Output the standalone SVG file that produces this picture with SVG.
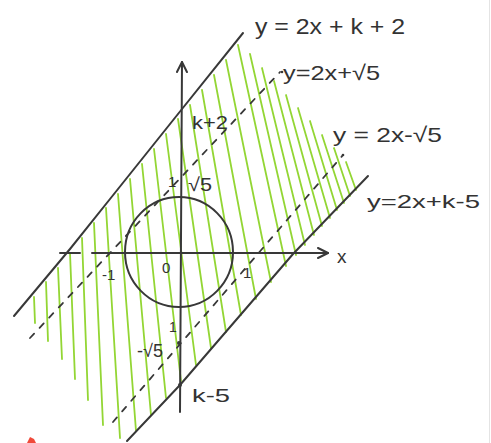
<svg xmlns="http://www.w3.org/2000/svg" width="491" height="443" viewBox="0 0 491 443">
<defs>
<style>
.bg{fill:#ffffff}
.hatch{stroke:#93d634;stroke-width:1.8;stroke-linecap:round;fill:none}
.ink{stroke:#383838;stroke-width:2;fill:none;stroke-linecap:round;stroke-linejoin:round}
.dash{stroke:#383838;stroke-width:1.8;fill:none;stroke-dasharray:6 8;stroke-linecap:round}
.lbl{font-family:"Liberation Sans","DejaVu Sans",sans-serif;fill:#333333}
.dot{fill:#383838}
</style>
<marker id="arrow" viewBox="0 0 12 12" refX="11" refY="6" markerWidth="12" markerHeight="12" markerUnits="userSpaceOnUse" orient="auto">
<path d="M1,1 L11,6 L1,11" fill="none" stroke="#383838" stroke-width="2" stroke-linecap="round" stroke-linejoin="round"/>
</marker>
</defs>
<rect class="bg" x="0" y="0" width="491" height="443"/>
<line x1="489.5" y1="0" x2="489.5" y2="443" stroke="#e4e4e4" stroke-width="1"/>

<g id="hatching" class="hatch">
<line x1="34" y1="297" x2="35" y2="323"/>
<line x1="46" y1="282" x2="48" y2="341"/>
<line x1="58" y1="268" x2="62" y2="359"/>
<line x1="70" y1="253" x2="75" y2="379"/>
<line x1="82" y1="238" x2="88" y2="400"/>
<line x1="94" y1="223" x2="103" y2="425"/>
<line x1="106" y1="208" x2="120" y2="438"/>
<line x1="118" y1="194" x2="136" y2="431"/>
<line x1="130" y1="179" x2="151" y2="415"/>
<line x1="142" y1="164" x2="166" y2="398"/>
<line x1="154" y1="149" x2="181" y2="381"/>
<line x1="166" y1="134" x2="196" y2="365"/>
<line x1="178" y1="119" x2="211" y2="348"/>
<line x1="190" y1="105" x2="226" y2="332"/>
<line x1="202" y1="90" x2="241" y2="315"/>
<line x1="214" y1="75" x2="256" y2="299"/>
<line x1="226" y1="60" x2="271" y2="282"/>
<line x1="238" y1="45" x2="286" y2="266"/>
<line x1="250" y1="54" x2="296" y2="255"/>
<line x1="262" y1="68" x2="305" y2="245"/>
<line x1="274" y1="81" x2="314" y2="235"/>
<line x1="286" y1="95" x2="322" y2="226"/>
<line x1="298" y1="108" x2="330" y2="218"/>
<line x1="310" y1="121" x2="337" y2="210"/>
<line x1="322" y1="135" x2="344" y2="203"/>
<line x1="334" y1="148" x2="350" y2="196"/>
<line x1="346" y1="162" x2="356" y2="190"/>
</g>

<g id="boundaries">
<polyline class="ink" points="14,316 70,249 110,199 182,109 243,33"/>
<polyline class="ink" points="127,441 180,385 293,254 368,176"/>
<line class="dash" x1="30" y1="338" x2="280" y2="72"/>
<line class="dash" x1="113" y1="422" x2="343" y2="155"/>
<circle class="dot" cx="282" cy="72" r="1.3"/>
<circle class="dot" cx="343" cy="155" r="1.3"/>
</g>

<g id="axes">
<line class="ink" x1="60" y1="253" x2="80" y2="253"/>
<line class="ink" x1="92" y1="253" x2="328" y2="253" marker-end="url(#arrow)"/>
<line class="ink" x1="180" y1="412" x2="182" y2="62" marker-end="url(#arrow)"/>
<circle class="dot" cx="180" cy="385" r="2"/>
<circle class="dot" cx="179" cy="343" r="2"/>
</g>

<g id="circle">
<ellipse class="ink" cx="179" cy="252" rx="54" ry="55"/>
</g>

<g id="labels" class="lbl">
<text x="255" y="34" font-size="22" textLength="150" lengthAdjust="spacingAndGlyphs">y = 2x + k + 2</text>
<text x="283" y="80" font-size="21" textLength="97" lengthAdjust="spacingAndGlyphs">y=2x+√5</text>
<text x="333" y="142" font-size="21" textLength="109" lengthAdjust="spacingAndGlyphs">y = 2x-√5</text>
<text x="367" y="208" font-size="19" textLength="113" lengthAdjust="spacingAndGlyphs">y=2x+k-5</text>
<text x="337" y="263" font-size="19">x</text>
<text x="162" y="273" font-size="15">0</text>
<text x="102" y="280" font-size="15">-1</text>
<text x="243" y="278" font-size="15">1</text>
<text x="169" y="332" font-size="14">1</text>
<text x="137" y="357" font-size="18" textLength="26" lengthAdjust="spacingAndGlyphs">-√5</text>
<text x="192" y="402" font-size="19" textLength="38" lengthAdjust="spacingAndGlyphs">k-5</text>
<text x="192" y="129" font-size="18" textLength="36" lengthAdjust="spacingAndGlyphs">k+2</text>
<text x="168" y="187" font-size="15">1</text>
<text x="188" y="191" font-size="19" textLength="24" lengthAdjust="spacingAndGlyphs">√5</text>
</g>

<path d="M27,443 L30,437 L34,439 L36,443 Z" fill="#f04a3a"/>
</svg>
